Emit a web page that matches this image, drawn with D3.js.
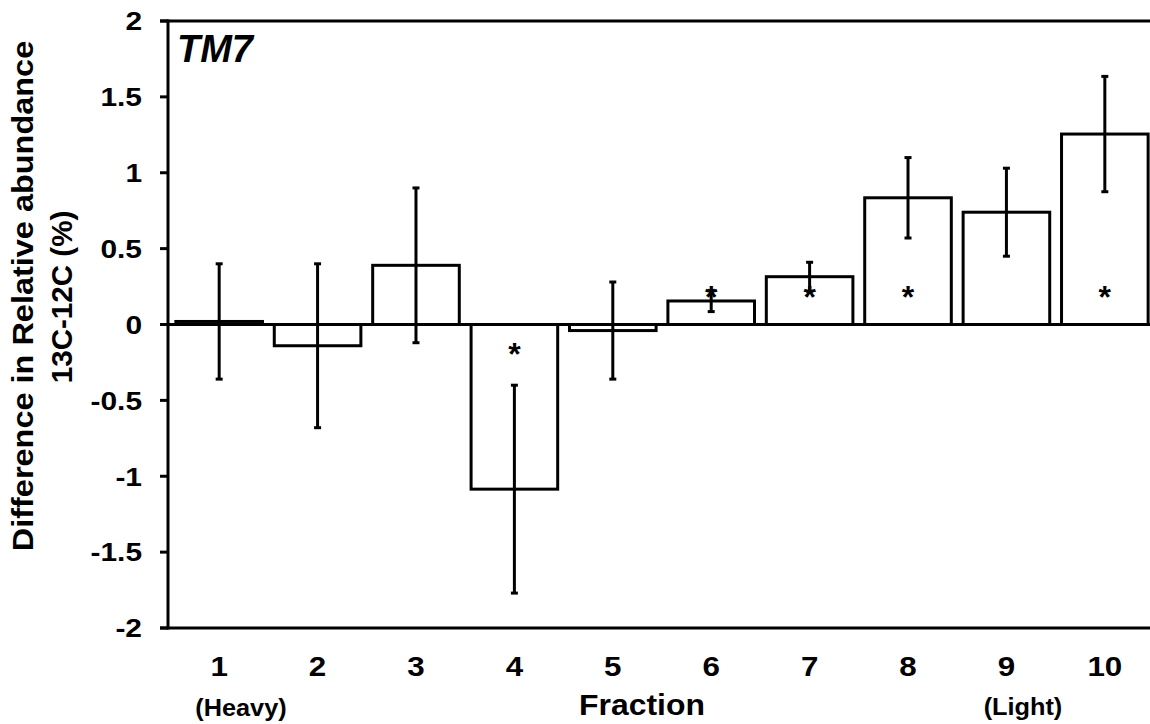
<!DOCTYPE html>
<html>
<head>
<meta charset="utf-8">
<script src="https://cdn.jsdelivr.net/npm/d3@7"></script>
<style>
  body { margin: 0; background: #fff; }
  text { font-family: "Liberation Sans", Arial, sans-serif; font-weight: bold; fill: #000; }
</style>
</head>
<body>
<svg id="chart" width="1150" height="724"></svg>
<script>
// Fractions of the density gradient, mean difference (13C - 12C) and error
const fractions = [1, 2, 3, 4, 5, 6, 7, 8, 9, 10];
const diffValues = [0.02, -0.14, 0.39, -1.085, -0.04, 0.155, 0.315, 0.835, 0.74, 1.255];
const errValues = [0.38, 0.54, 0.51, 0.685, 0.32, 0.07, 0.095, 0.265, 0.29, 0.38];
const significant = [false, false, false, true, false, true, true, true, false, true];
const yTicks = [2, 1.5, 1, 0.5, 0, -0.5, -1, -1.5, -2];
const yTickLabels = ["2", "1.5", "1", "0.5", "0", "-0.5", "-1", "-1.5", "-2"];

const rows = fractions.map((f, i) => ({
  f, v: diffValues[i], e: errValues[i], sig: significant[i]
}));

const svg = d3.select("#chart");
const plotLeft = 168, plotRight = 1156, plotTop = 21, plotBottom = 628;

const x = d3.scaleBand().domain(fractions).range([plotLeft, plotRight])
  .paddingInner(0.12).paddingOuter(0.08);
const y = d3.scaleLinear().domain([-2, 2]).range([plotBottom, plotTop]);

const stroke = 3;

// bars
svg.append("g").selectAll("rect").data(rows).join("rect")
  .attr("x", d => x(d.f))
  .attr("y", d => y(Math.max(0, d.v)))
  .attr("width", x.bandwidth())
  .attr("height", d => Math.abs(y(d.v) - y(0)))
  .attr("fill", "#fff")
  .attr("stroke", "#000")
  .attr("stroke-width", stroke);

// error bars
const eb = svg.append("g").selectAll("g").data(rows).join("g")
  .attr("transform", d => `translate(${x(d.f) + x.bandwidth() / 2},0)`);
eb.append("line")
  .attr("y1", d => y(d.v + d.e)).attr("y2", d => y(d.v - d.e))
  .attr("stroke", "#000").attr("stroke-width", stroke);
eb.append("line")
  .attr("x1", -3.5).attr("x2", 3.5)
  .attr("y1", d => y(d.v + d.e)).attr("y2", d => y(d.v + d.e))
  .attr("stroke", "#000").attr("stroke-width", stroke);
eb.append("line")
  .attr("x1", -3.5).attr("x2", 3.5)
  .attr("y1", d => y(d.v - d.e)).attr("y2", d => y(d.v - d.e))
  .attr("stroke", "#000").attr("stroke-width", stroke);

// frame lines: top, zero line, bottom, left axis
const frame = svg.append("g").attr("stroke", "#000").attr("stroke-width", stroke);
[2, 0, -2].forEach(v => {
  frame.append("line").attr("x1", plotLeft - 8).attr("x2", 1150)
    .attr("y1", y(v)).attr("y2", y(v));
});
frame.append("line").attr("x1", plotLeft).attr("x2", plotLeft)
  .attr("y1", y(2) - stroke / 2).attr("y2", y(-2) + stroke / 2);

// y ticks and labels
svg.append("g").selectAll("line").data(yTicks).join("line")
  .attr("x1", plotLeft - 8).attr("x2", plotLeft)
  .attr("y1", d => y(d)).attr("y2", d => y(d))
  .attr("stroke", "#000").attr("stroke-width", stroke);
svg.append("g").selectAll("text").data(yTicks).join("text")
  .attr("transform", d => `translate(142,${y(d)}) scale(1.15,1)`)
  .attr("dy", "0.36em")
  .attr("text-anchor", "end")
  .style("font-size", "26px")
  .text((d, i) => yTickLabels[i]);

// x tick labels
svg.append("g").selectAll("text").data(fractions).join("text")
  .attr("transform", d => `translate(${x(d) + x.bandwidth() / 2},676) scale(1.12,1)`)
  .attr("text-anchor", "middle")
  .style("font-size", "28px")
  .text(d => d);

// significance asterisks
svg.append("g").selectAll("text").data(rows.filter(d => d.sig)).join("text")
  .attr("x", d => x(d.f) + x.bandwidth() / 2)
  .attr("y", d => d.v >= 0 ? y(0) - 17 : y(0) + 40)
  .attr("text-anchor", "middle")
  .style("font-size", "32px")
  .text("*");

// axis titles and annotations
svg.append("text")
  .attr("transform", "translate(642,715) scale(1.1,1)")
  .attr("text-anchor", "middle").style("font-size", "29px").text("Fraction");
svg.append("text")
  .attr("transform", "translate(241,716) scale(1.1,1)")
  .attr("text-anchor", "middle").style("font-size", "23px").text("(Heavy)");
svg.append("text")
  .attr("transform", "translate(1023,715) scale(1.1,1)")
  .attr("text-anchor", "middle").style("font-size", "23px").text("(Light)");

svg.append("text")
  .attr("transform", "translate(33,296) rotate(-90) scale(1.12,1)")
  .attr("text-anchor", "middle").style("font-size", "29px")
  .text("Difference in Relative abundance");
svg.append("text")
  .attr("transform", "translate(72,297) rotate(-90) scale(1.02,1)")
  .attr("text-anchor", "middle").style("font-size", "29px")
  .text("13C-12C (%)");

svg.append("text")
  .attr("x", 177).attr("y", 62)
  .style("font-size", "38px").style("font-style", "italic")
  .text("TM7");
</script>
</body>
</html>
